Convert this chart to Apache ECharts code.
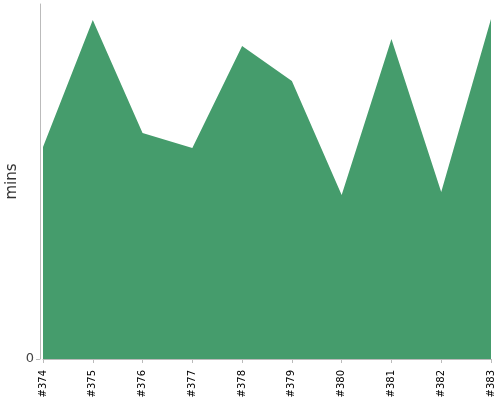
<!DOCTYPE html>
<html><head><meta charset="utf-8">
<script src="https://cdn.jsdelivr.net/npm/echarts@6/dist/echarts.min.js"></script>
<style>html,body{margin:0;padding:0;background:#fff}#c{width:500px;height:400px}</style>
</head><body><div id="c"></div>
<script>
var categories = ['#374','#375','#376','#377','#378','#379','#380','#381','#382','#383'];
var values = [212, 339, 226, 211, 313, 278, 164, 320, 167, 340];
var yTicks = [0];
var yName = 'mins';

var chart = echarts.init(document.getElementById('c'), null, {renderer: 'canvas'});
chart.setOption({
  animation: false,
  grid: {left: 43, right: 9, top: 4, bottom: 41, containLabel: false, outerBoundsMode: 'none'},
  xAxis: {
    type: 'category', data: categories, boundaryGap: false, offset: 3,
    axisLine: {lineStyle: {color: '#bbb', width: 1}},
    axisTick: {alignWithLabel: true, length: 4, lineStyle: {color: '#bbb'}},
    axisLabel: {rotate: 90, margin: 8, color: '#000', fontSize: 10, fontFamily: 'DejaVu Sans', interval: 0}
  },
  yAxis: {
    type: 'value', min: 0, max: 355, offset: 3,
    name: yName, nameLocation: 'middle', nameRotate: 90, nameGap: 20, nameMoveOverlap: false,
    nameTextStyle: {color: '#333', fontSize: 15, fontFamily: 'DejaVu Sans'},
    splitLine: {show: false},
    axisLine: {show: true, lineStyle: {color: '#bbb', width: 1}},
    axisTick: {show: true, length: 4, lineStyle: {color: '#bbb'}, customValues: yTicks},
    axisLabel: {color: '#444', fontSize: 13, fontFamily: 'DejaVu Sans', margin: 6, customValues: yTicks}
  },
  series: [{
    type: 'line', data: values, showSymbol: false, symbol: 'none',
    lineStyle: {width: 0},
    areaStyle: {color: '#459c6c', opacity: 1}
  }]
});
</script></body></html>
